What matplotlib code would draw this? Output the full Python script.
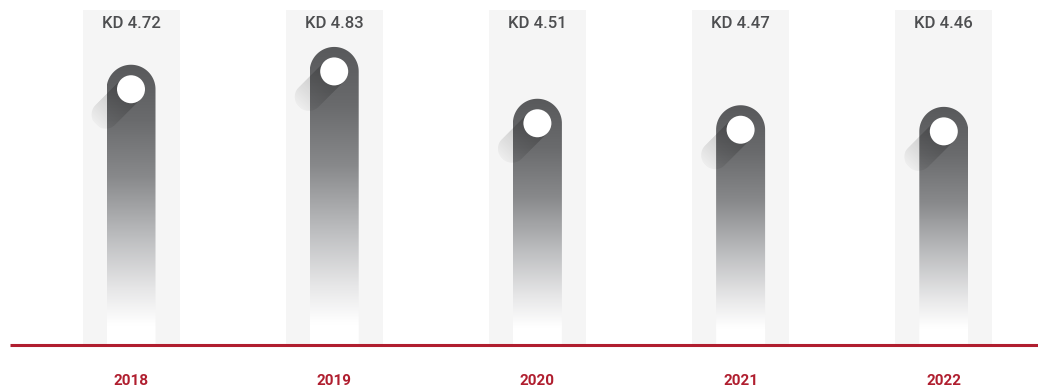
import matplotlib
matplotlib.use("Agg")
import matplotlib.pyplot as plt
import matplotlib.transforms as mtransforms
from matplotlib.patches import Rectangle, Circle, PathPatch
from matplotlib.path import Path
from matplotlib.colors import LinearSegmentedColormap
import numpy as np

years = ["2018", "2019", "2020", "2021", "2022"]
eps = [4.72, 4.83, 4.51, 4.47, 4.46]
eps_labels = ["KD 4.72", "KD 4.83", "KD 4.51", "KD 4.47", "KD 4.46"]

RED = "#b01e2f"
TEXT = "#4d4e50"
COLUMN_BG = "#f5f5f5"

W, H = 1038, 389
x0_px, step_px = 131, 203.2      # first column centre, spacing
base_px = 44                     # baseline height from bottom
px_per_unit = 162
base_val = 2.99

fig = plt.figure(figsize=(W / 100, H / 100), dpi=100)
ax = fig.add_axes([0, 0, 1, 1])
ax.set_axis_off()
ax.set_xlim(-x0_px / step_px, (W - x0_px) / step_px)
ax.set_ylim(base_val - base_px / px_per_unit, base_val + (H - base_px) / px_per_unit)

# pixels per data unit along each axis
p0 = ax.transData.transform((0, 0))
p1 = ax.transData.transform((1, 1))
sx, sy = p1 - p0

bar_cmap = LinearSegmentedColormap.from_list(
    "bar",
    [(0.0, "#ffffff"), (0.07, "#ffffff"), (0.2, "#e6e6e7"), (0.38, "#bdbec0"),
     (0.6, "#88898b"), (0.8, "#6a6b6d"), (1.0, "#58595b")])

col_half = 48.5 / sx
bar_r = 24.5
knob_r = 14
shadow_len = 36
hw = bar_r / sx
ry = bar_r / sy
col_top = ax.get_ylim()[1] - 10 / sy


def stadium(length, r):
    t1 = np.linspace(-np.pi / 2, np.pi / 2, 40)
    t2 = np.linspace(np.pi / 2, 3 * np.pi / 2, 40)
    pts = np.vstack([np.c_[length + r * np.cos(t1), r * np.sin(t1)],
                     np.c_[r * np.cos(t2), r * np.sin(t2)]])
    return Path(np.vstack([pts, pts[:1]]), closed=True)


# shadow texture: black, alpha fading along its length
shade = np.zeros((2, 200, 4))
shade[..., 3] = np.linspace(0.24, 0.03, 200)[None, :]

for i, (v, lab, yr) in enumerate(zip(eps, eps_labels, years)):
    ax.add_patch(Rectangle((i - col_half, base_val), 2 * col_half, col_top - base_val,
                           facecolor=COLUMN_BG, edgecolor="none", zorder=1))

    # bar outline with rounded top, used to clip the gradient
    yc = v - ry
    t = np.linspace(0, np.pi, 60)
    verts = [(i - hw, base_val), (i + hw, base_val), (i + hw, yc)]
    verts += list(zip(i + hw * np.cos(t), yc + ry * np.sin(t)))
    verts += [(i - hw, base_val)]
    clip = PathPatch(Path(verts, closed=True), facecolor="none", edgecolor="none")
    ax.add_patch(clip)
    grad = np.linspace(0, 1, 256).reshape(-1, 1)
    im = ax.imshow(grad, cmap=bar_cmap, origin="lower", aspect="auto",
                   extent=[i - hw, i + hw, base_val, v], zorder=2,
                   interpolation="bilinear")
    im.set_clip_path(clip)

    # diagonal shadow trailing from the knob towards lower left
    tr = (mtransforms.Affine2D().rotate_deg(225)
          + mtransforms.ScaledTranslation(i, yc, ax.transData))
    sh_clip = PathPatch(stadium(shadow_len, knob_r), transform=tr,
                        facecolor="none", edgecolor="none")
    ax.add_patch(sh_clip)
    sh = ax.imshow(shade, origin="lower", aspect="auto", interpolation="bilinear",
                   extent=[0, shadow_len + knob_r, -knob_r, knob_r], zorder=3)
    sh.set_transform(tr)
    sh.set_clip_path(sh_clip)

    ax.add_patch(Circle((0, 0), knob_r, facecolor="white", edgecolor="none", zorder=4,
                        transform=mtransforms.ScaledTranslation(i, yc, ax.transData)))

    ax.text(i, 1 - 23 / H, lab, transform=ax.get_xaxis_transform(),
            ha="center", va="center", fontsize=12, color=TEXT, family="Roboto",
            fontweight="medium")
    ax.text(i, 8 / H, yr, transform=ax.get_xaxis_transform(),
            ha="center", va="center", fontsize=11, fontweight="bold", color=RED,
            family="Roboto")

ax.set_xlim(-x0_px / step_px, (W - x0_px) / step_px)
ax.set_ylim(base_val - base_px / px_per_unit, base_val + (H - base_px) / px_per_unit)

ax.plot([ax.get_xlim()[0] + 10 / sx, ax.get_xlim()[1]], [base_val, base_val],
        color=RED, lw=2.2, solid_capstyle="butt", zorder=5)

fig.savefig("out.png", dpi=100)
